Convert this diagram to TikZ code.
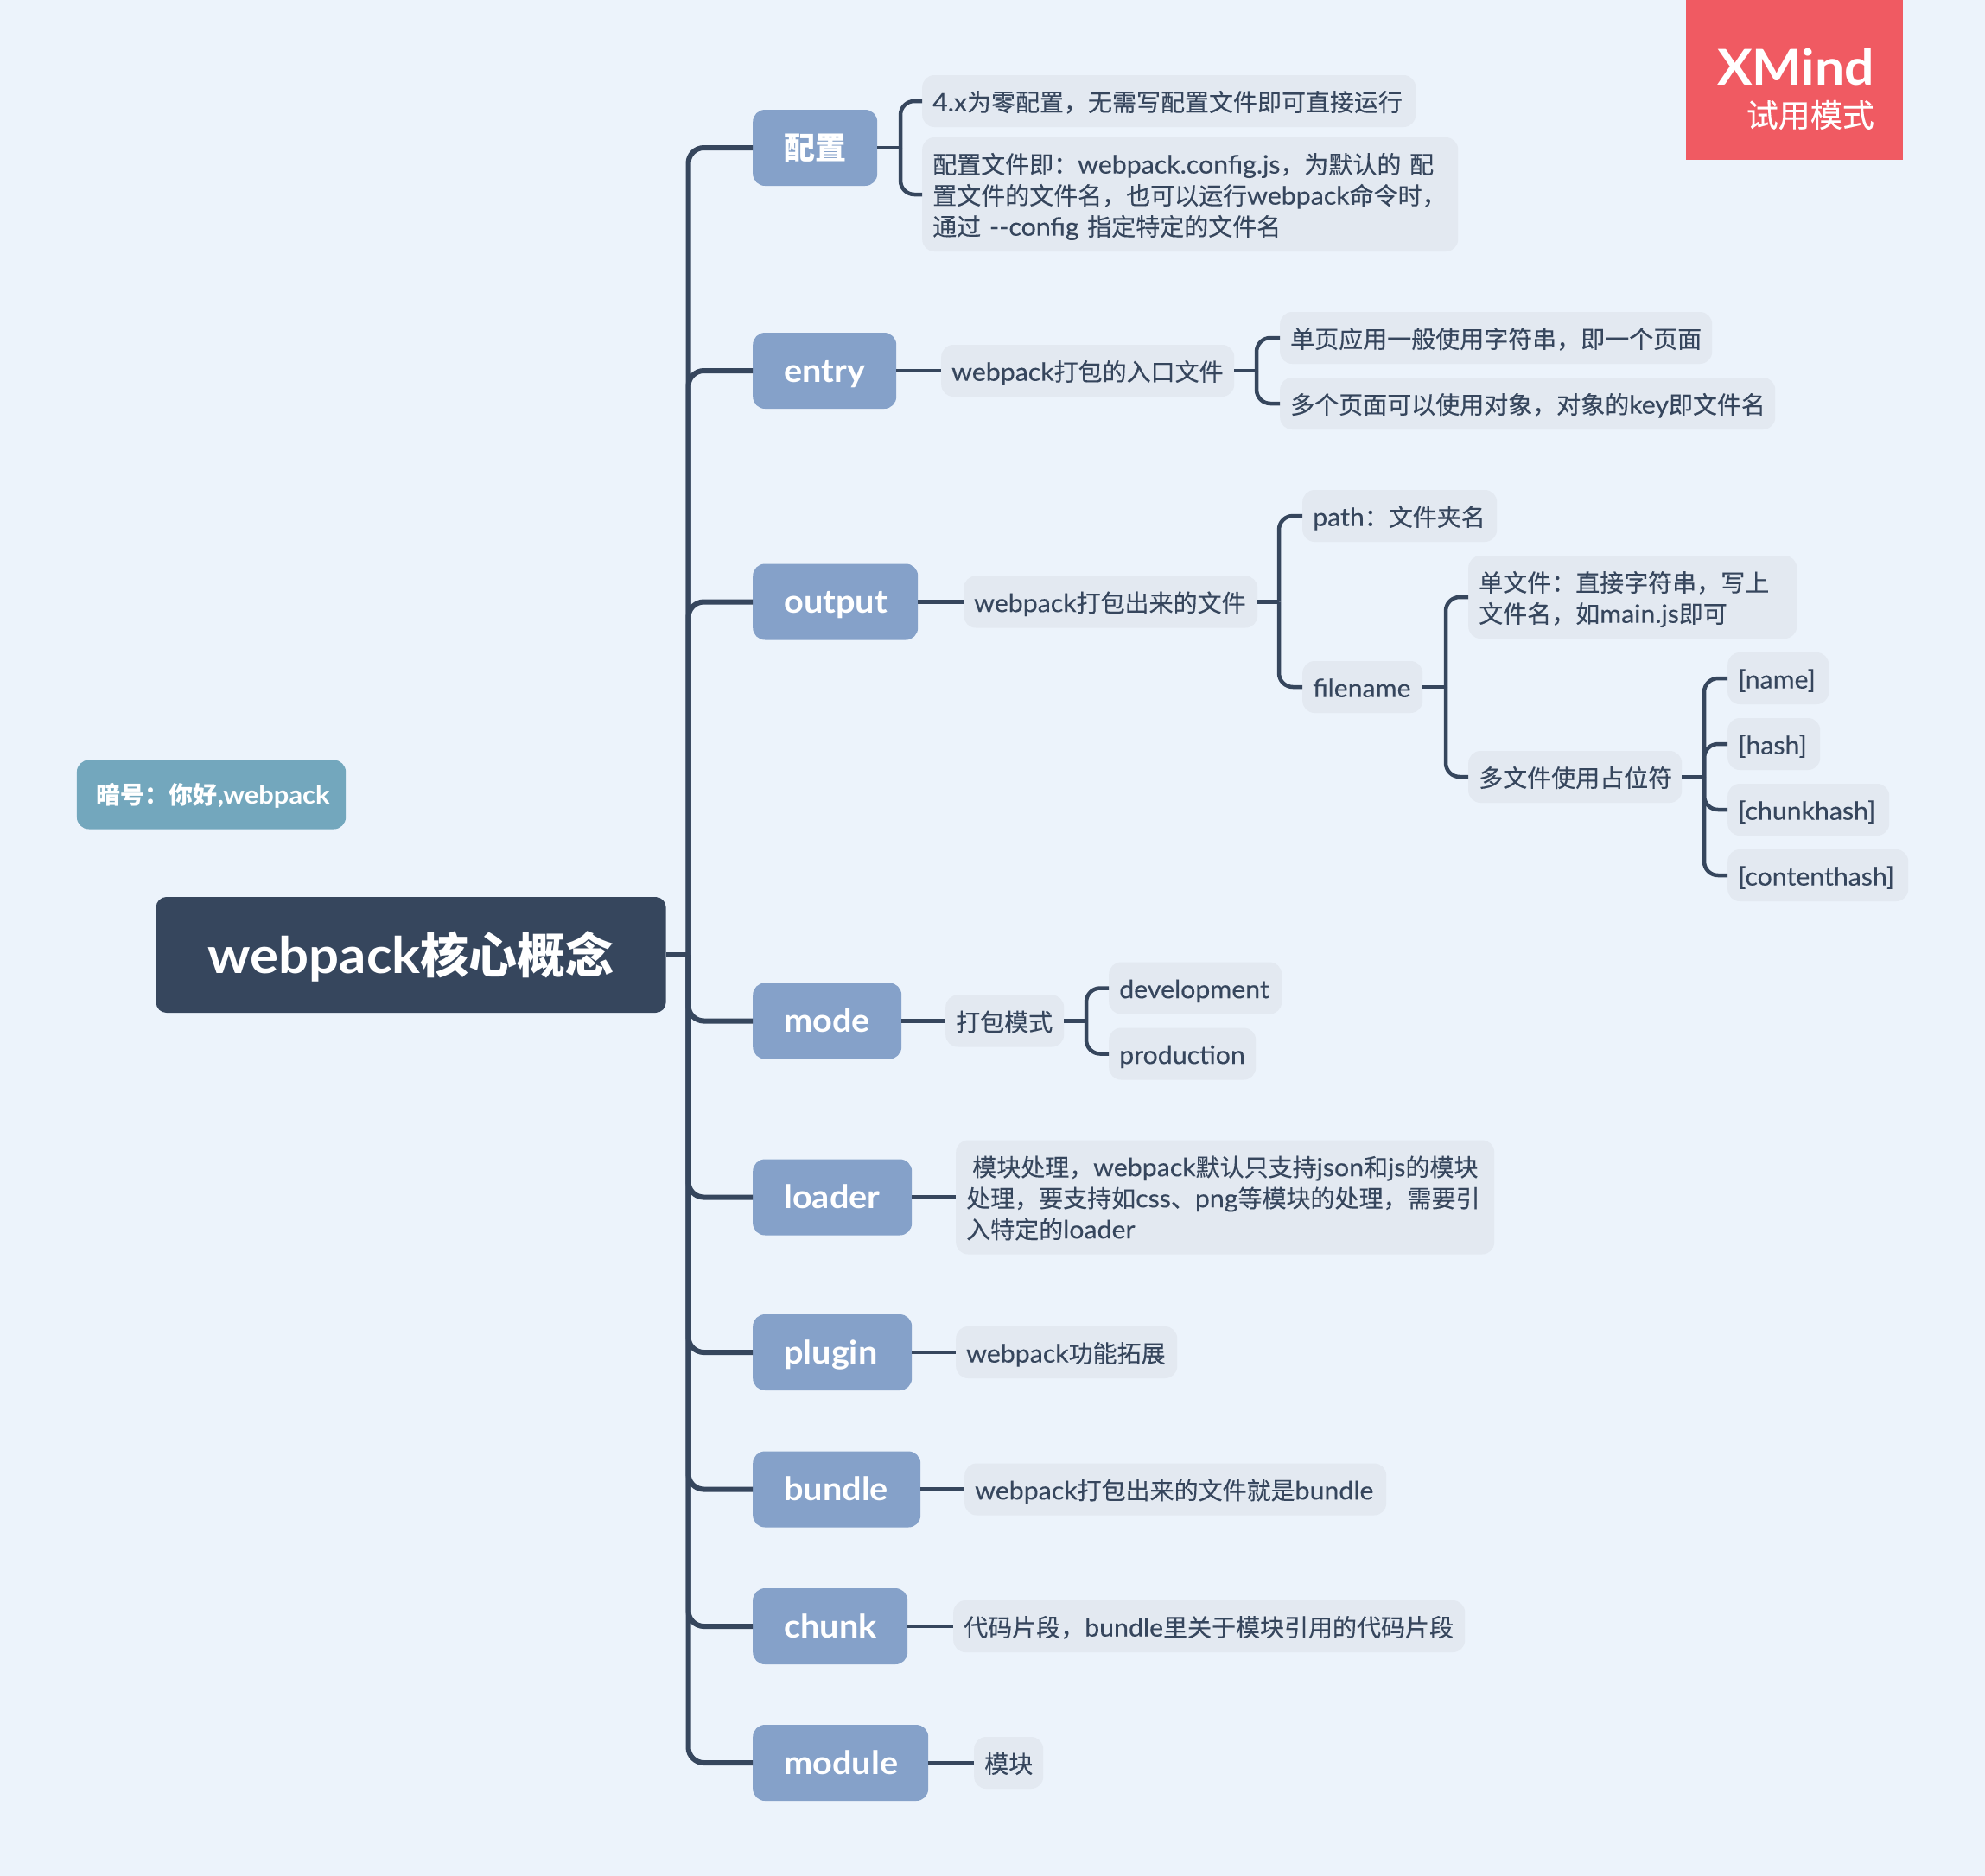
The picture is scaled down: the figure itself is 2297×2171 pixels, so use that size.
\documentclass[tikz,border=0pt]{standalone}
\usepackage{fontspec}
\setmainfont[Scale=1.04,FakeStretch=1.04,FakeBold=0.2,BoldFeatures={FakeStretch=1.06,FakeBold=0}]{Lato}
\newfontfamily\latf[Scale=1.04,FakeStretch=1.04,FakeBold=0.2,BoldFeatures={FakeStretch=1.06,FakeBold=0}]{Lato}
\newfontfamily\cjkf[FakeBold=0.2,BoldFeatures={FakeBold=0}]{Noto Sans CJK SC}
\newXeTeXintercharclass\cjkclass
\newcount\cjkcnt
\newcommand{\setcjkrange}[2]{\cjkcnt=#1 \loop\XeTeXcharclass\cjkcnt=\cjkclass\ifnum\cjkcnt<#2 \advance\cjkcnt by 1 \repeat}
\setcjkrange{"3000}{"303F}
\setcjkrange{"4E00}{"9FFF}
\setcjkrange{"FF00}{"FFEF}
\XeTeXinterchartokenstate=1
\XeTeXinterchartoks 0 \cjkclass={\cjkf}
\XeTeXinterchartoks 4095 \cjkclass={\cjkf}
\XeTeXinterchartoks \cjkclass 0={\latf}
\XeTeXinterchartoks \cjkclass 4095={\latf}
\newcommand{\tup}{.8}
\newcommand{\tstrut}{\leavevmode\vrule height\tup\baselineskip depth\dimexpr\baselineskip-\tup\baselineskip\relax width0pt\relax}
\definecolor{bgc}{HTML}{ECF3FB}
\definecolor{inkc}{HTML}{36465D}
\definecolor{branchc}{HTML}{85A1C9}
\definecolor{leafc}{HTML}{E3E9F1}
\definecolor{notec}{HTML}{73A7BD}
\definecolor{markc}{HTML}{F05A62}
\tikzset{
  rootbox/.style={fill=inkc,text=white,rounded corners=12pt,inner sep=0pt,align=center,font=\fontsize{56}{72}\selectfont\bfseries},
  branchbox/.style={fill=branchc,text=white,rounded corners=14pt,inner ysep=0pt,align=left,font=\fontsize{36}{44}\selectfont\bfseries},
  leafbox/.style={fill=leafc,text=inkc,rounded corners=14pt,inner ysep=0pt,align=left,font=\fontsize{28}{36}\selectfont\def\tup{.825}},
  notebox/.style={fill=notec,text=white,rounded corners=14pt,inner ysep=0pt,align=left,font=\fontsize{28}{36}\selectfont\bfseries\def\tup{.8}},
  mainlink/.style={draw=inkc,line width=6pt,rounded corners=18pt},
  sublink/.style={draw=inkc,line width=4.5pt,rounded corners=16pt},
}
% name, x1, x2, cy, height, left padding, style, text
\newcommand{\tnode}[8]{%
  \pgfmathsetmacro{\tw}{#3-#2-2*#6}%
  \pgfmathsetmacro{\thh}{#5}%
  \node[#7,anchor=west,inner xsep=#6pt,text width=\tw pt,minimum height=\thh pt] (#1) at (#2,#4) {\tstrut #8\tstrut};%
}
\begin{document}
\begin{tikzpicture}[x=1pt,y=-1pt]
\path[use as bounding box,fill=bgc] (0,0) rectangle (2297,2171);
% watermark
\fill[markc] (1951,0) rectangle (2202,185);
\node[anchor=base east,inner sep=0pt,text=white,font=\fontsize{55}{60}\selectfont\bfseries] (xm) at (2169,98) {XMind};
\node[anchor=base east,inner sep=0pt,text=white,font=\fontsize{37}{40}\selectfont] (xt) at (2169,147) {试用模式};
% root and note
\node[rootbox,minimum width=590pt,minimum height=134pt] (root) at (475.6,1105) {\tstrut webpack核心概念\tstrut};
\tnode{note}{88.7}{400}{919.5}{80}{23}{notebox}{暗号：你好,webpack}
% branches
\tnode{b1}{871}{1015}{171}{88}{36}{branchbox}{配置}
\tnode{b2}{871}{1037}{429}{88}{36}{branchbox}{entry}
\tnode{b3}{871}{1062}{696.5}{88}{36}{branchbox}{output}
\tnode{b4}{871}{1043}{1181.5}{88}{36}{branchbox}{mode}
\tnode{b5}{871}{1055}{1385.5}{88}{36}{branchbox}{loader}
\tnode{b6}{871}{1055}{1565}{88}{36}{branchbox}{plugin}
\tnode{b7}{871}{1065}{1723.5}{88}{36}{branchbox}{bundle}
\tnode{b8}{871}{1050}{1882}{88}{36}{branchbox}{chunk}
\tnode{b9}{871}{1074}{2040}{88}{36}{branchbox}{module}
% leaves
\tnode{a1}{1067}{1638}{117}{60}{12}{leafbox}{4.x为零配置，无需写配置文件即可直接运行}
\tnode{a2}{1067}{1687}{225}{132}{12}{leafbox}{配置文件即：webpack.config.js，为默认的 配\\置文件的文件名，也可以运行webpack命令时，\\通过 -{}-config 指定特定的文件名}
\tnode{c0}{1089}{1428}{429}{60}{12}{leafbox}{webpack打包的入口文件}
\tnode{c1}{1481}{1981}{391}{60}{12}{leafbox}{单页应用一般使用字符串，即一个页面}
\tnode{c2}{1481}{2054}{467}{60}{12}{leafbox}{多个页面可以使用对象，对象的key即文件名}
\tnode{d0}{1115}{1455}{696.5}{60}{12}{leafbox}{webpack打包出来的文件}
\tnode{d1}{1507}{1732}{597}{60}{12}{leafbox}{path：文件夹名}
\tnode{d2}{1507}{1646}{795}{60}{12}{leafbox}{filename}
\tnode{d3}{1699}{2079}{691}{96}{12}{leafbox}{单文件：直接字符串，写上\\文件名，如main.js即可}
\tnode{d4}{1699}{1946}{899}{60}{12}{leafbox}{多文件使用占位符}
\tnode{e1}{1999}{2116}{785}{60}{12}{leafbox}{[name]}
\tnode{e2}{1999}{2106}{861}{60}{12}{leafbox}{[hash]}
\tnode{e3}{1999}{2186}{937}{60}{12}{leafbox}{[chunkhash]}
\tnode{e4}{1999}{2208}{1013}{60}{12}{leafbox}{[contenthash]}
\tnode{f0}{1094}{1231}{1181.5}{60}{12}{leafbox}{打包模式}
\tnode{f1}{1283}{1483}{1143.5}{60}{12}{leafbox}{development}
\tnode{f2}{1283}{1453}{1219.5}{60}{12}{leafbox}{production}
\tnode{g0}{1106}{1729}{1385.5}{132}{12}{leafbox}{\hspace*{7pt}模块处理，webpack默认只支持json和js的模块\\处理，要支持如css、png等模块的处理，需要引\\入特定的loader}
\tnode{h0}{1106}{1362}{1565}{60}{12}{leafbox}{webpack功能拓展}
\tnode{i0}{1116}{1604}{1723.5}{60}{12}{leafbox}{webpack打包出来的文件就是bundle}
\tnode{j0}{1103}{1695}{1882}{60}{12}{leafbox}{代码片段，bundle里关于模块引用的代码片段}
\tnode{k0}{1127}{1207}{2040}{60}{12}{leafbox}{模块}
% junctions
\coordinate (jr) at (796.5,1105);
\coordinate (ja) at (1042,171);
\coordinate (jc) at (1454,429);
\coordinate (jd) at (1480,696.5);
\coordinate (je) at (1673,795);
\coordinate (jf) at (1972,899);
\coordinate (jg) at (1257,1181.5);
% trunk links
\draw[mainlink] (root.east) -- (jr);
\foreach \b in {b1,b2,b3,b4,b5,b6,b7,b8,b9} \draw[mainlink] (jr) |- (\b.west);
% forks
\draw[sublink] (b1.east) -- (ja);
\foreach \c in {a1,a2} \draw[sublink] (ja) |- (\c.west);
\draw[sublink] (b2.east) -- (c0.west);
\draw[sublink] (c0.east) -- (jc);
\foreach \c in {c1,c2} \draw[sublink] (jc) |- (\c.west);
\draw[sublink] (b3.east) -- (d0.west);
\draw[sublink] (d0.east) -- (jd);
\foreach \c in {d1,d2} \draw[sublink] (jd) |- (\c.west);
\draw[sublink] (d2.east) -- (je);
\foreach \c in {d3,d4} \draw[sublink] (je) |- (\c.west);
\draw[sublink] (d4.east) -- (jf);
\foreach \c in {e1,e2,e3,e4} \draw[sublink] (jf) |- (\c.west);
\draw[sublink] (b4.east) -- (f0.west);
\draw[sublink] (f0.east) -- (jg);
\foreach \c in {f1,f2} \draw[sublink] (jg) |- (\c.west);
\draw[sublink] (b5.east) -- (g0.west);
\draw[sublink] (b6.east) -- (h0.west);
\draw[sublink] (b7.east) -- (i0.west);
\draw[sublink] (b8.east) -- (j0.west);
\draw[sublink] (b9.east) -- (k0.west);
\end{tikzpicture}
\end{document}
